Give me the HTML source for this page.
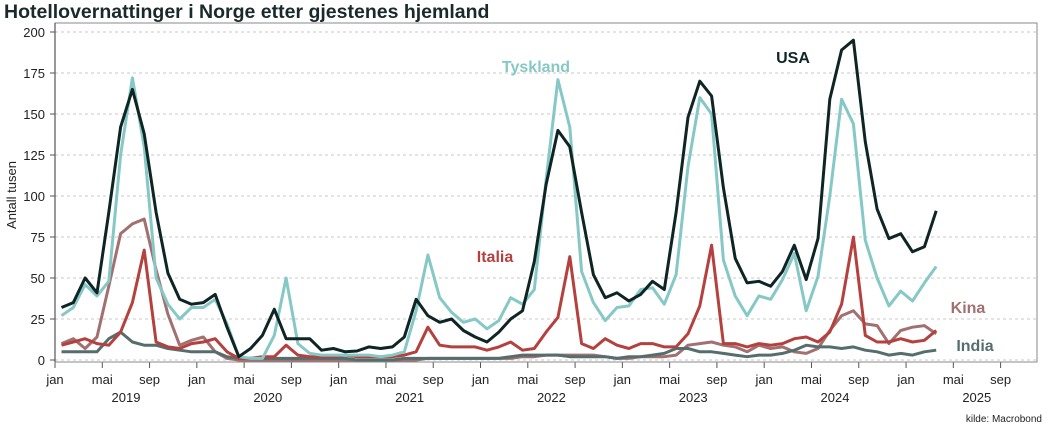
<!DOCTYPE html>
<html><head><meta charset="utf-8"><style>
body{margin:0;background:#fff;width:1049px;height:431px;overflow:hidden;font-family:"Liberation Sans",sans-serif}
</style></head><body>
<svg id="s" width="1049" height="431" viewBox="0 0 1049 431" xmlns="http://www.w3.org/2000/svg" font-family="Liberation Sans, sans-serif">
<text x="4" y="18" font-size="19.5" font-weight="bold" fill="#1a2a2a">Hotellovernattinger i Norge etter gjestenes hjemland</text>
<g id="grid"></g>
<rect x="55" y="23" width="982" height="339" fill="none" stroke="#888" stroke-width="1"/>
<line x1="55" y1="23" x2="55" y2="362" stroke="#555" stroke-width="1.2"/>
<text transform="translate(16,195) rotate(-90)" font-size="13" text-anchor="middle" fill="#222">Antall tusen</text>
<g id="lines" fill="none" stroke-width="3" stroke-linejoin="round"></g>
<text x="536" y="72" font-size="16" font-weight="bold" fill="#86c8c6" text-anchor="middle">Tyskland</text>
<text x="793" y="63" font-size="16" font-weight="bold" fill="#0f2524" text-anchor="middle">USA</text>
<text x="495" y="262" font-size="16" font-weight="bold" fill="#b5413f" text-anchor="middle">Italia</text>
<text x="968" y="313" font-size="16" font-weight="bold" fill="#a27070" text-anchor="middle">Kina</text>
<text x="975" y="351" font-size="16" font-weight="bold" fill="#556e6d" text-anchor="middle">India</text>
<text x="1042" y="422" font-size="10" text-anchor="end" fill="#222">kilde: Macrobond</text>
</svg>
<script>
var ns="http://www.w3.org/2000/svg",s=document.getElementById('s'),g=document.getElementById('grid'),L=document.getElementById('lines');
function el(p,t,a,txt){var e=document.createElementNS(ns,t);for(var k in a)e.setAttribute(k,a[k]);if(txt!=null)e.textContent=txt;p.appendChild(e);return e;}
function Y(v){return 360-v*1.64;}
for(var v=0;v<=200;v+=25){el(g,'line',{x1:55,x2:1037,y1:Y(v),y2:Y(v),stroke:'#c8c8c8','stroke-dasharray':'3,3'});
el(g,'line',{x1:50,x2:55,y1:Y(v),y2:Y(v),stroke:'#555'});
el(g,'text',{x:45,y:Y(v)+5,'font-size':13,'text-anchor':'end',fill:'#222'},v);}
var mn=['jan','mai','sep'];
for(var m=0;m<=80;m+=4){var x=55+m*11.82;el(g,'line',{x1:x,x2:x,y1:362,y2:368,stroke:'#555'});
el(g,'text',{x:x,y:384,'font-size':13,'text-anchor':'middle',fill:'#222'},mn[(m/4)%3]);}
for(var yr=0;yr<7;yr++)el(g,'text',{x:55+yr*141.8+71,y:402,'font-size':13,'text-anchor':'middle',fill:'#222'},2019+yr);
var D={
'#a27070':[10,13,7,14,45,77,83,86,55,28,9,12,14,5,1,0,0,0,0,0,0,0,0,0,0,0,0,0,0,0,0,1,1,1,1,1,1,1,1,2,2,3,3,3,3,3,2,1,1,2,2,2,3,9,10,11,9,8,5,9,7,8,5,4,7,18,27,30,22,21,10,18,20,21,16],
'#556e6d':[5,5,5,5,13,17,11,9,9,7,6,5, 5,5,2,1,1,1,1,1,1,1,1,1, 1,0,0,0,0,1,1,1,1,1,1,1, 1,1,2,3,3,3,3,2,2,2,2,1, 2,2,3,4,7,7,5,5,4,3,2,3, 3,4,6,9,8,8,7,8,6,5,3,4, 3,5,6],
'#b5413f':[9,11,13,10,9,17,35,67,11,8,7,10, 11,13,5,1,1,2,2,9,3,2,2,2, 3,2,2,2,2,3,5,20,9,8,8,8, 6,8,11,6,7,17,26,63,10,7,13,9, 7,10,10,8,8,16,33,70,10,10,8,10, 9,10,13,14,11,17,34,75,15,11,11,13, 11,12,18],
'#86c8c6':[27,32,46,39,48,125,172,130,50,34,25,32,32,37,22,2,1,1,15,50,10,4,3,3,3,3,3,2,3,5,30,64,38,29,23,25,19,24,38,34,43,110,171,142,54,35,24,32,33,43,44,34,52,118,160,150,61,39,27,39,37,49,65,30,51,100,159,144,73,50,33,42,36,47,57],
'#0f2524':[32,35,50,41,90,142,165,138,90,53,37,34,35,40,20,2,7,15,31,13,13,13,6,7,5,5.5,8,7,8,14,37,27,23,25,18,14,11,17,25,30,60,107,140,130,90,52,38,41,36,40,48,43,90,148,170,161,105,62,47,48,45,54,70,49,74,159,189,195,133,92,74,77,66,69,91]};
for(var c in D){var a=D[c],p=[];
for(var i=0;i<a.length;i++)p.push((61.5+i*11.82).toFixed(1)+','+Y(a[i]).toFixed(1));
el(L,'polyline',{points:p.join(' '),stroke:c});}
</script>
</body></html>
